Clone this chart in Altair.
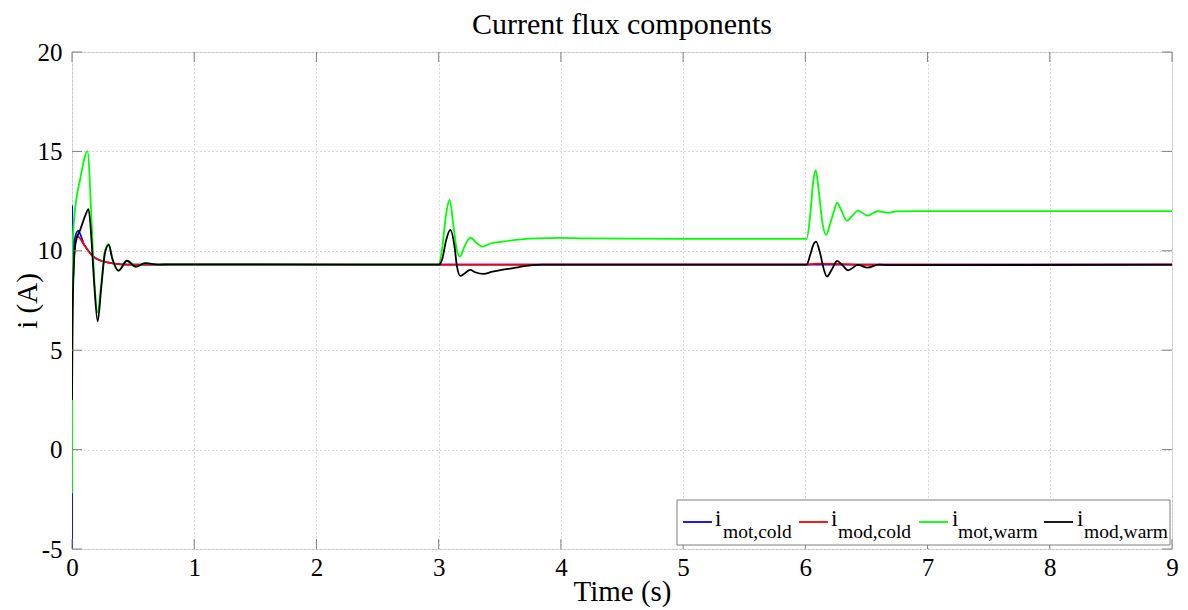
import altair as alt
import pandas as pd

# ---------------- data ----------------
t_mot_cold = [0.0, 0.002, 0.008, 0.02, 0.05, 0.1, 0.155, 0.2, 0.24, 0.3, 0.4, 0.5, 3.0, 6.0, 9.0]
i_mot_cold = [-5.0, 12.3, 8.3, 10.5, 11.0, 10.3, 9.85, 9.6, 9.5, 9.4, 9.32, 9.3, 9.3, 9.3, 9.3]

t_mod_cold = [0.0, 0.003, 0.04, 0.11, 0.165, 0.2, 0.24, 0.3, 0.4, 0.5, 3.0, 6.0, 6.1, 6.3, 6.5, 9.0]
i_mod_cold = [4.9, 7.7, 10.75, 10.2, 9.75, 9.6, 9.5, 9.4, 9.32, 9.3, 9.3, 9.3, 9.35, 9.33, 9.3, 9.3]

t_mot_warm = [0.0, 0.003, 0.015, 0.07, 0.127, 0.16, 0.185, 0.21, 0.24, 0.27, 0.30, 0.33, 0.38, 0.45,
              0.52, 0.6, 0.7, 3.0, 3.03, 3.06, 3.09, 3.12, 3.15, 3.175, 3.21, 3.26, 3.31, 3.36, 3.43,
              3.52, 3.65, 3.8, 4.0, 4.2, 5.0, 6.01, 6.04, 6.065, 6.085, 6.11, 6.14, 6.17, 6.2, 6.235,
              6.26, 6.29, 6.34, 6.39, 6.43, 6.51, 6.59, 6.67, 6.75, 6.9, 9.0]
i_mot_warm = [-2.2, 10.0, 11.4, 13.7, 15.0, 11.5, 8.3, 6.9, 8.4, 10.0, 10.35, 9.6, 9.0, 9.5,
              9.2, 9.38, 9.3, 9.3, 10.2, 11.8, 12.56, 11.3, 10.0, 9.71, 10.2, 10.66, 10.4, 10.21, 10.38,
              10.46, 10.56, 10.62, 10.65, 10.62, 10.6, 10.6, 11.8, 13.5, 14.06, 13.0, 11.4, 10.8, 11.3, 12.0,
              12.42, 12.1, 11.51, 11.8, 12.02, 11.77, 11.99, 11.92, 11.98, 12.0, 12.0]

t_mod_warm = [0.0, 0.004, 0.014, 0.03, 0.07, 0.11, 0.135, 0.16, 0.18, 0.21, 0.24, 0.27, 0.30, 0.33,
              0.38, 0.45, 0.52, 0.6, 0.7, 0.8, 3.0, 3.03, 3.06, 3.095, 3.13, 3.15, 3.177, 3.21, 3.258,
              3.3, 3.367, 3.44, 3.515, 3.6, 3.735, 3.85, 6.01, 6.04, 6.065, 6.088, 6.12, 6.15, 6.176,
              6.22, 6.26, 6.3, 6.35, 6.43, 6.51, 6.6, 6.7, 9.0]
i_mod_warm = [2.5, 6.0, 9.2, 10.4, 11.1, 11.8, 12.1, 10.5, 8.5, 6.45, 8.2, 9.9, 10.3, 9.6,
              9.0, 9.5, 9.2, 9.38, 9.3, 9.32, 9.3, 9.6, 10.5, 11.05, 10.2, 9.2, 8.74, 8.85, 9.04,
              8.92, 8.84, 8.95, 9.04, 9.12, 9.25, 9.3, 9.3, 9.8, 10.3, 10.46, 9.9, 9.1, 8.71,
              9.1, 9.49, 9.3, 9.02, 9.29, 9.15, 9.3, 9.28, 9.3]

series_names = ["mot,cold", "mod,cold", "mot,warm", "mod,warm"]
series_colors = ["#0000ff", "#ff0000", "#00ff00", "#000000"]
x_ticks = [0, 1, 2, 3, 4, 5, 6, 7, 8, 9]
y_ticks = [-5, 0, 5, 10, 15, 20]

# ---------------- build tables ----------------
series = [(t_mot_cold, i_mot_cold), (t_mod_cold, i_mod_cold),
          (t_mot_warm, i_mot_warm), (t_mod_warm, i_mod_warm)]
rows = []
for k, (ts, vs) in enumerate(series):
    for j, (t, v) in enumerate(zip(ts, vs)):
        rows.append({"t": t, "i": v, "s": series_names[k], "j": j})
df = pd.DataFrame(rows)

W, H = 1100, 497
FONT = "Liberation Serif"
GRAY = "#7f7f7f"
GRID = "#b0b0b0"

xs = alt.Scale(domain=[0, 9], nice=False, zero=False)
ys = alt.Scale(domain=[-5, 20], nice=False, zero=False)

x_axis = alt.Axis(values=x_ticks, title="Time (s)", grid=True, ticks=False, domain=False,
                  labelFontSize=25, titleFontSize=29, labelPadding=6, labelFlush=False,
                  titleY=51, titleBaseline="alphabetic",
                  labelFont=FONT, titleFont=FONT, labelColor="#000", titleColor="#000",
                  titleFontWeight="normal", labelExpr="'' + datum.value", gridColor=GRID,
                  gridDash=[1, 3], gridWidth=1)
y_axis = alt.Axis(values=y_ticks, title="i (A)", grid=True, ticks=False, domain=False,
                  labelFontSize=25, titleFontSize=29, labelPadding=10, labelFlush=False,
                  titleX=-36, titleY=H / 2, titleAngle=-90, titleAlign="center",
                  titleBaseline="alphabetic",
                  labelFont=FONT, titleFont=FONT, labelColor="#000", titleColor="#000",
                  titleFontWeight="normal", labelExpr="'' + datum.value", gridColor=GRID,
                  gridDash=[1, 3], gridWidth=1)

# axes layer (grid + labels) drawn first, beneath the curves
xt = pd.DataFrame({"t": x_ticks})
yt = pd.DataFrame({"i": y_ticks})
axes_layer = alt.Chart(df).mark_point(opacity=0).encode(
    x=alt.X("t:Q", scale=xs, axis=x_axis),
    y=alt.Y("i:Q", scale=ys, axis=y_axis),
)

lines = []
for k, name in enumerate(series_names):
    lines.append(
        alt.Chart(df[df.s == name]).mark_line(
            color=series_colors[k], strokeWidth=1.8, interpolate="monotone", clip=True
        ).encode(
            x=alt.X("t:Q"),
            y=alt.Y("i:Q"),
            order="j:Q",
        )
    )

# inward tick marks (MATLAB style) on all four sides
tick_len = 10
ticks = [
    alt.Chart(xt).mark_rule(color=GRAY, strokeWidth=1).encode(
        x=alt.X("t:Q"), y=alt.value(H), y2=alt.value(H - tick_len)),
    alt.Chart(xt).mark_rule(color=GRAY, strokeWidth=1).encode(
        x=alt.X("t:Q"), y=alt.value(0), y2=alt.value(tick_len)),
    alt.Chart(yt).mark_rule(color=GRAY, strokeWidth=1).encode(
        y=alt.Y("i:Q"), x=alt.value(0), x2=alt.value(tick_len)),
    alt.Chart(yt).mark_rule(color=GRAY, strokeWidth=1).encode(
        y=alt.Y("i:Q"), x=alt.value(W), x2=alt.value(W - tick_len)),
]

# custom legend with subscripts (pixel positions inside the plot area)
leg_line_x = [611, 727, 847, 972]
leg_i_x = [643, 759, 880, 1005]
leg_sub_x = [651, 766, 886, 1012]
leg = pd.DataFrame({
    "name": series_names, "color": series_colors,
    "lx": leg_line_x, "lx2": [v + 29 for v in leg_line_x],
    "ix": leg_i_x, "sx": leg_sub_x, "main": ["i"] * 4,
})
legend_box = alt.Chart(leg.head(1)).mark_rect(fill="white", stroke=GRAY, strokeWidth=1).encode(
    x=alt.value(605), x2=alt.value(1098), y=alt.value(448), y2=alt.value(493))
legend_lines = alt.Chart(leg).mark_rule(strokeWidth=1.8).encode(
    x=alt.X("lx:Q", scale=None), x2="lx2:Q", y=alt.value(470),
    color=alt.Color("color:N", scale=None))
legend_i = alt.Chart(leg).mark_text(font=FONT, fontSize=23, align="left", baseline="alphabetic",
                                    color="#000").encode(
    x=alt.X("ix:Q", scale=None), y=alt.value(474), text="main:N")
legend_sub = alt.Chart(leg).mark_text(font=FONT, fontSize=19.5, align="left", baseline="alphabetic",
                                      color="#000").encode(
    x=alt.X("sx:Q", scale=None), y=alt.value(486), text="name:N")

chart = alt.layer(
    axes_layer, *lines, *ticks, legend_box, legend_lines, legend_i, legend_sub
).properties(
    width=W, height=H,
    title=alt.TitleParams("Current flux components", font=FONT, fontSize=30,
                          fontWeight="normal", color="#000", anchor="middle", offset=12, dy=12),
    autosize=alt.AutoSizeParams(type="none"),
    padding={"left": 64, "top": 44, "right": 8, "bottom": 58},
).configure_view(
    stroke=GRAY, strokeWidth=1
).configure(background="white")

chart.save("out.html", embed_options={"renderer": "svg", "actions": False})
